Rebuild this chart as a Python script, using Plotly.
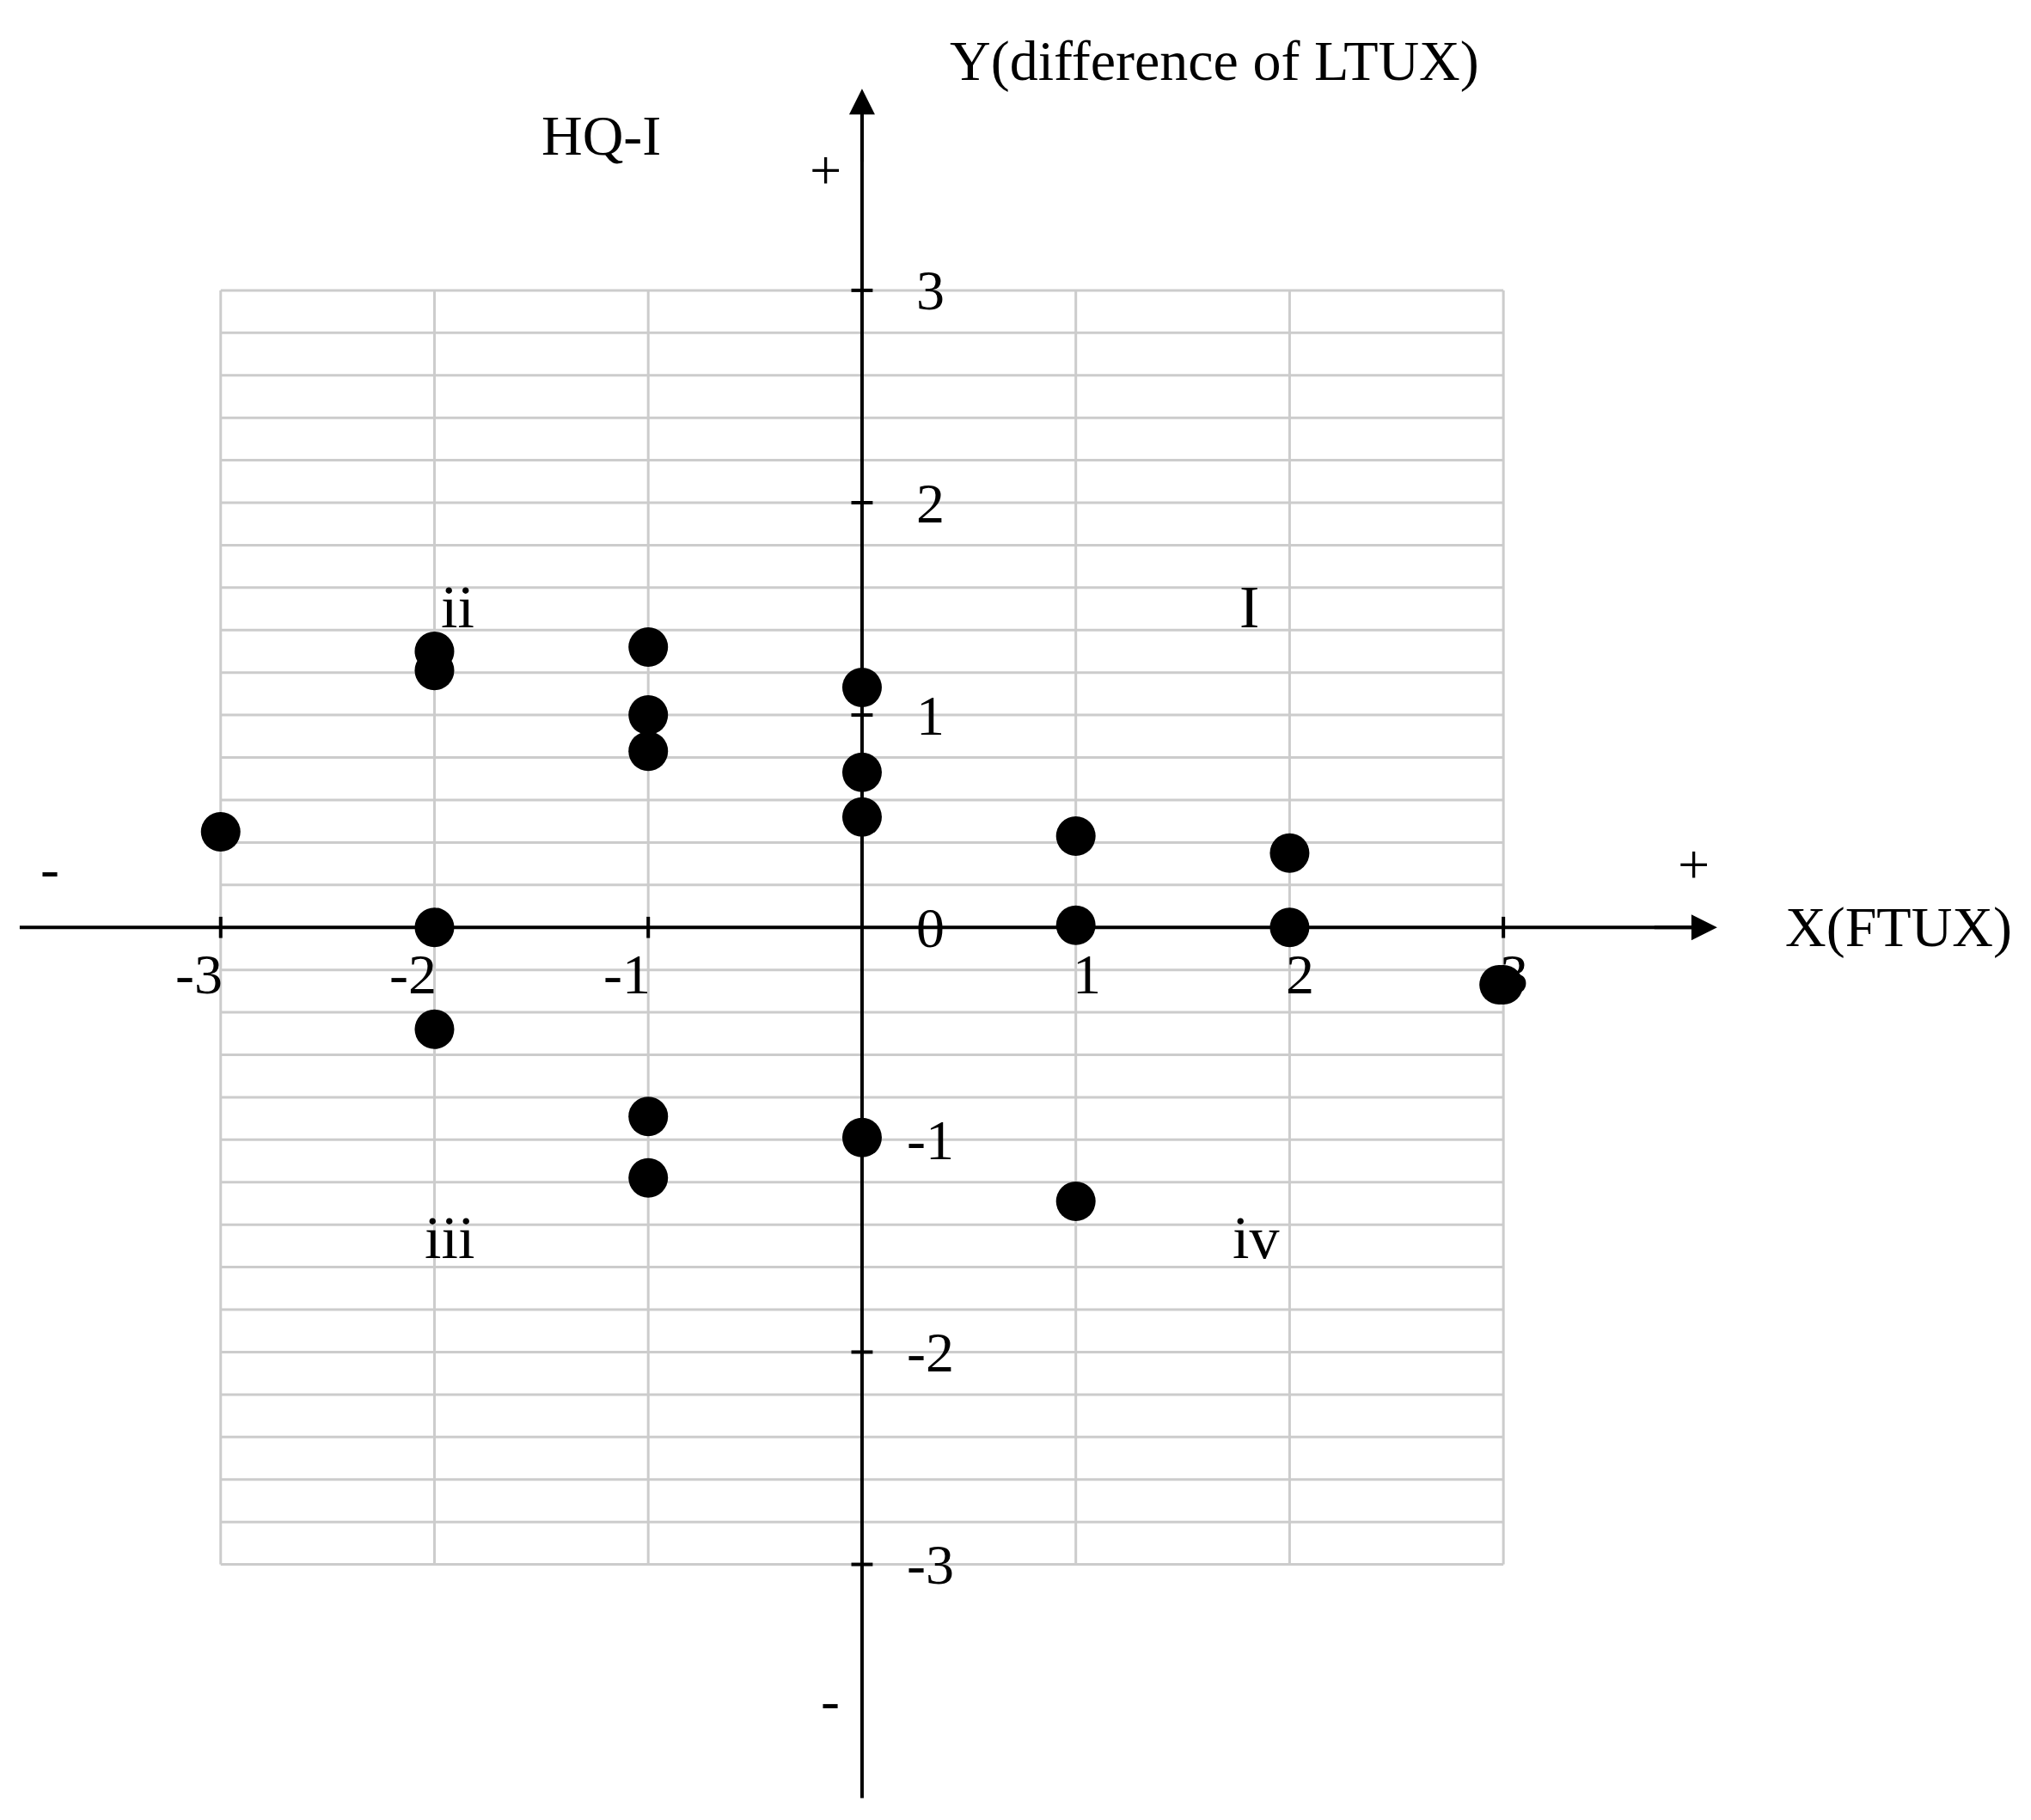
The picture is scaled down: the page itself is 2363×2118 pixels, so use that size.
import plotly.graph_objects as go
import numpy as np

x_vals = [-3, -2, -2, -2, -2, -1, -1, -1, -1, -1, 0, 0, 0, 0, 1, 1, 1, 2, 2, 3, 2.98]
y_vals = [0.45, 1.30, 1.21, 0, -0.48, 1.32, 1.0, 0.83, -0.89, -1.18, 1.13, 0.73, 0.52, -0.99, 0.43, 0.01, -1.29, 0.35, 0, -0.27, -0.27]
x_ticks = [-3, -2, -1, 1, 2, 3]
y_ticks = [-3, -2, -1, 1, 2, 3]

FONT = "Liberation Serif"
fig = go.Figure()
shapes = []
for gx in np.arange(-3, 3.01, 1):
    shapes.append(dict(type="line", x0=gx, x1=gx, y0=-3, y1=3, line=dict(color="#cccccc", width=3), layer="below"))
for gy in np.arange(-3, 3.01, 0.2):
    shapes.append(dict(type="line", x0=-3, x1=3, y0=gy, y1=gy, line=dict(color="#cccccc", width=3), layer="below"))
shapes.append(dict(type="line", x0=-3.94, x1=3.9, y0=0, y1=0, line=dict(color="black", width=4)))
shapes.append(dict(type="line", x0=0, x1=0, y0=-4.1, y1=3.85, line=dict(color="black", width=4)))
for t in x_ticks:
    shapes.append(dict(type="line", x0=t, x1=t, y0=-0.05, y1=0.05, line=dict(color="black", width=4)))
for t in y_ticks:
    shapes.append(dict(type="line", x0=-0.05, x1=0.05, y0=t, y1=t, line=dict(color="black", width=4)))

fig.add_trace(go.Scatter(x=x_vals, y=y_vals, mode="markers",
                         marker=dict(color="black", size=46), showlegend=False))

ann = []
def txt(x, y, s, size=66):
    ann.append(dict(x=x, y=y, text=s, showarrow=False, font=dict(family=FONT, size=size, color="black")))
for t in x_ticks:
    txt(t - 0.1 if t < 0 else t + 0.05, -0.22, str(t))
for t in y_ticks:
    txt(0.32, t, str(t))
txt(0.32, 0, "0")
txt(1.65, 4.08, "Y(difference of LTUX)")
txt(-1.22, 3.73, "HQ-I")
txt(-0.17, 3.57, "+")
txt(3.89, 0.3, "+")
txt(-3.8, 0.28, "-")
txt(-0.15, -3.64, "-")
txt(4.85, 0, "X(FTUX)")
txt(-1.89, 1.51, "ii", 70)
txt(1.81, 1.51, "I", 70)
txt(-1.93, -1.46, "iii", 70)
txt(1.84, -1.46, "iv", 70)
ann.append(dict(x=4.0, y=0, ax=3.7, ay=0, xref="x", yref="y", axref="x", ayref="y", text="", showarrow=True,
                arrowhead=2, arrowsize=1.5, arrowwidth=4, arrowcolor="black"))
ann.append(dict(x=0, y=3.95, ax=0, ay=3.6, xref="x", yref="y", axref="x", ayref="y", text="", showarrow=True,
                arrowhead=2, arrowsize=1.5, arrowwidth=4, arrowcolor="black"))

fig.update_layout(width=2363, height=2118, margin=dict(l=0, r=0, t=0, b=0),
                  plot_bgcolor="white", paper_bgcolor="white", shapes=shapes, annotations=ann,
                  xaxis=dict(range=[-4, 5.5], visible=False),
                  yaxis=dict(range=[-4.236, 4.335], visible=False))
fig.write_html("out.html")
